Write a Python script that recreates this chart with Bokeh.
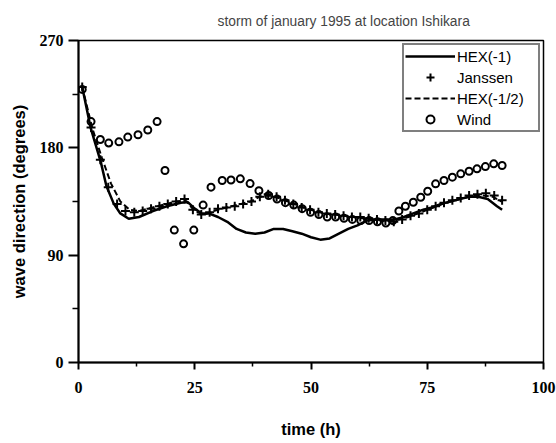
from bokeh.plotting import figure
from bokeh.models import Range1d, FixedTicker, Legend, LegendItem
from bokeh.embed import file_html
from bokeh.resources import INLINE

# ---- data ----
hex1_t = [0.8, 2.6, 4.8, 6.0, 7.6, 9.0, 10.8, 13, 16, 19, 22, 23.5, 25, 26.5, 28, 30, 32, 34, 36, 38,
          40, 42, 44, 46, 48, 50, 52, 54, 56, 58, 60, 62, 64, 66, 68, 70, 72, 74, 76, 78,
          80, 82, 84, 86, 88, 90, 91.1]
hex1_v = [231, 197, 168, 148, 133, 125, 120.5, 122, 127, 131, 134, 134.5, 129, 125, 125, 122, 118, 112, 109, 108,
          109, 112, 112, 110, 108, 105, 103, 104, 108, 112, 115, 119, 120, 120, 120, 122, 125, 128, 130, 133,
          135, 137, 139, 139, 137, 131, 128]

janssen_t = [0.8, 2.7, 4.7, 6.4, 8.3, 10.1, 12, 13.8, 15.6, 17.4, 19.2, 21, 22.8, 24.6, 26.4, 28.2, 30, 31.8,
             33.6, 35.4, 37.2, 39, 40.8, 42.6, 44.4, 46.2, 48, 49.8, 51.6, 53.4, 55.2, 57, 58.8, 60.6, 62.4,
             64.2, 66, 67.8, 69.6, 71.4, 73.2, 75, 76.8, 78.6, 80.4, 82.2, 84, 85.8, 87.6, 89.4, 91.1]
janssen_v = [231, 197, 170, 147, 133, 127, 126, 127, 129, 131, 133, 135, 137, 128, 124, 126, 129, 130,
             131, 133, 135, 139, 141, 139, 136, 133, 130, 128, 126, 125, 124, 123, 122, 122, 121,
             120, 119, 118, 120, 123, 125, 128, 131, 134, 136, 138, 140, 141, 142, 140, 136]

hexh_t = [0.8, 3, 5, 7, 9, 11, 13, 15, 17, 19, 21, 23, 25, 27, 29, 31, 33, 35, 37, 39, 41, 43, 45, 47, 49,
          51, 53, 55, 57, 59, 61, 63, 65, 67, 69, 71, 73, 75, 77, 79, 81, 83, 85, 87, 89, 91]
hexh_v = [231, 196, 172, 150, 135, 128, 127, 129, 131, 133, 135, 136, 127, 124, 127, 129, 131, 133, 135, 139,
          140, 138, 135, 132, 129, 127, 125, 124, 123, 122, 121, 120, 119, 119, 120, 122, 125, 128, 131, 134,
          136, 138, 140, 140, 139, 135]

wind_t = [0.8, 2.7, 4.7, 6.5, 8.7, 10.6, 12.8, 14.9, 16.9, 18.6, 20.6, 22.6, 24.8, 26.8, 28.5, 30.9, 32.8,
          34.8, 36.9, 38.8, 40.9, 42.7, 44.5, 46.3, 48.1, 49.9, 51.7, 53.5, 55.3, 57.1, 58.9, 60.7, 62.5,
          64.3, 66.1, 67.6, 68.9, 70.3, 72.0, 73.6, 75.1, 76.8, 78.6, 80.4, 82.2, 84.0, 85.7, 87.5, 89.3, 91.1]
wind_v = [229, 202, 187, 184, 185, 189, 191, 195, 202, 161, 111, 99.5, 111, 132, 147, 152.6, 153,
          154, 150, 144, 140, 137, 134, 132, 129, 126, 124, 122, 122, 121, 120, 119, 119,
          118, 117, 119, 127, 131, 134.4, 138.6, 143.6, 149.8, 152.6, 155.4, 158.2, 160.4, 162.4, 164.3, 166.6, 165.2]

x_ticks = [0, 25, 50, 75, 100]
x_minor = [12.5, 37.5, 62.5, 87.5]
y_ticks = [0, 90, 180, 270]
y_minor = [45, 135, 225]

p = figure(width=556, height=443, output_backend="svg", toolbar_location=None,
           x_range=Range1d(0, 100), y_range=Range1d(0, 270),
           min_border_left=78, min_border_right=13, min_border_top=40, min_border_bottom=81)

p.title.text = "storm of january 1995 at location Ishikara"
p.title.align = "left"
p.title.offset = 139
p.title.text_font = "Liberation Sans"
p.title.text_font_size = "13.8px"
p.title.text_font_style = "normal"
p.title.standoff = 23

p.xgrid.visible = False
p.ygrid.visible = False
p.outline_line_color = "black"
p.outline_line_width = 1.5
p.background_fill_color = "white"

for ax, ticks, minor in ((p.xaxis[0], x_ticks, x_minor), (p.yaxis[0], y_ticks, y_minor)):
    ax.ticker = FixedTicker(ticks=ticks, minor_ticks=minor)
    ax.axis_line_width = 2
    ax.axis_line_color = "black"
    ax.major_tick_line_width = 2
    ax.minor_tick_line_width = 1.5
    ax.major_tick_in = 0
    ax.minor_tick_in = 0
    ax.major_label_text_font = "Liberation Serif"
    ax.major_label_text_font_style = "bold"
    ax.major_label_text_font_size = "16px"
    ax.major_label_text_color = "black"
    ax.axis_label_text_font = "Liberation Sans"
    ax.axis_label_text_font_style = "bold"
    ax.axis_label_text_font_size = "16.5px"
    ax.axis_label_text_color = "black"

p.xaxis.major_tick_out = 7
p.xaxis.minor_tick_out = 4
p.xaxis.major_label_standoff = 12
p.xaxis.axis_label = "time (h)"
p.xaxis.axis_label_standoff = 24

p.yaxis.major_tick_out = 10
p.yaxis.minor_tick_out = 6
p.yaxis.major_label_standoff = 5
p.yaxis.axis_label = "wave direction (degrees)"
p.yaxis.axis_label_standoff = 9

r_hex1 = p.line(hex1_t, hex1_v, line_color="black", line_width=2.5)
r_hexh = p.line(hexh_t, hexh_v, line_color="black", line_width=2, line_dash="6 3")
r_jan = p.scatter(janssen_t, janssen_v, marker="cross", size=9, line_color="black", line_width=2)
r_wind = p.scatter(wind_t, wind_v, marker="circle", size=7, line_color="black", line_width=2,
                   fill_color=None)

legend = Legend(items=[
    LegendItem(label="HEX(-1)", renderers=[r_hex1]),
    LegendItem(label="Janssen", renderers=[r_jan]),
    LegendItem(label="HEX(-1/2)", renderers=[r_hexh]),
    LegendItem(label="Wind", renderers=[r_wind]),
], location="top_right")
legend.margin = 3
legend.padding = 1
legend.spacing = 1
legend.glyph_width = 50
legend.glyph_height = 20
legend.label_height = 20
legend.label_width = 80
legend.label_standoff = 2
legend.label_text_font = "Liberation Sans"
legend.label_text_font_size = "15px"
legend.label_text_color = "black"
legend.border_line_color = "black"
legend.border_line_width = 2
legend.background_fill_color = "white"
legend.background_fill_alpha = 1
p.add_layout(legend)

open("out.html", "w").write(file_html(p, INLINE))
